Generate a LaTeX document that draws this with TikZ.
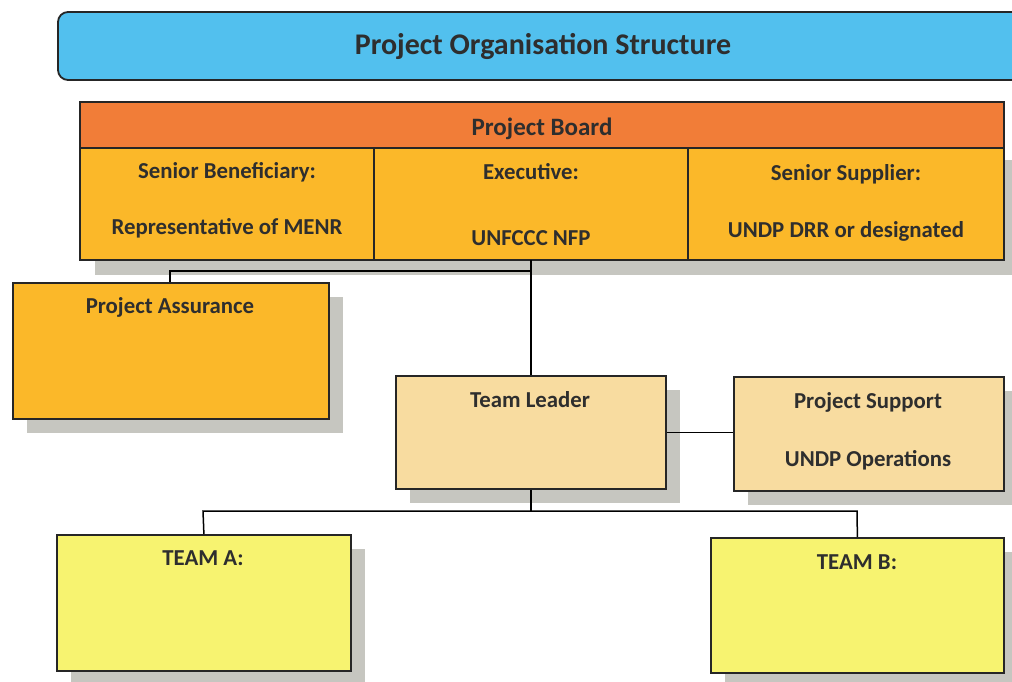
\documentclass[tikz,border=0pt]{standalone}
\usepackage{fontspec}
\setmainfont{Carlito}
\definecolor{titleblue}{HTML}{52C0EE}
\definecolor{boardorange}{HTML}{F17D38}
\definecolor{gold}{HTML}{FBB829}
\definecolor{tan}{HTML}{F8DCA0}
\definecolor{lemon}{HTML}{F7F370}
\definecolor{inkgrey}{HTML}{2E2E2E}
\definecolor{shadowgrey}{HTML}{C6C6C0}
\begin{document}
\begin{tikzpicture}[x=1pt,y=-1pt,
  box/.style={draw=black!85,line width=1.8pt},
  shade/.style={fill=shadowgrey},
  lbl/.style={font=\bfseries\fontsize{22.8}{26}\selectfont,text=inkgrey},
  conn/.style={draw=black,line width=1.5pt}]
\useasboundingbox (0,0) rectangle (1012,681);

% drop shadows
\fill[shade] (95,160) rectangle (1019,275);
\fill[shade] (27,297) rectangle (343,433);
\fill[shade] (410,390) rectangle (680,503);
\fill[shade] (748,391) rectangle (1018,505);
\fill[shade] (71,549) rectangle (365,685);
\fill[shade] (725,552) rectangle (1018,687);

% title banner
\draw[box,fill=titleblue,rounded corners=10pt] (58,12) rectangle (1040,80);
\node (title) at (543,46) {\bfseries\fontsize{30}{34}\selectfont\color{inkgrey}Project Organisation Structure};

% project board
\draw[box,fill=boardorange] (80,102) rectangle (1004,148);
\node[lbl,font=\bfseries\fontsize{25}{28}\selectfont] (board) at (542,129) {Project Board};
\draw[box,fill=gold] (80,148) rectangle (374,260);
\draw[box,fill=gold] (374,148) rectangle (688,260);
\draw[box,fill=gold] (688,148) rectangle (1004,260);
\coordinate (boardbot) at (531,260);
\node[lbl] (sb1) at (227,172) {Senior Beneficiary:};
\node[lbl] (sb2) at (227,228) {Representative of MENR};
\node[lbl] (ex1) at (531,172) {Executive:};
\node[lbl] (ex2) at (531,238) {UNFCCC NFP};
\node[lbl] (ss1) at (846,174) {Senior Supplier:};
\node[lbl] (ss2) at (846,231) {UNDP DRR or designated};

% boxes
\node[box,fill=gold,minimum width=316pt,minimum height=136pt,anchor=north west,inner sep=0pt] (pa) at (12,282) {};
\node[lbl] at (170,307) {Project Assurance};

\node[box,fill=tan,minimum width=270pt,minimum height=113pt,anchor=north west,inner sep=0pt] (tl) at (395,375) {};
\node[lbl] at (530,400) {Team Leader};

\node[box,fill=tan,minimum width=270pt,minimum height=114pt,anchor=north west,inner sep=0pt] (ps) at (733,376) {};
\node[lbl] at (868,402) {Project Support};
\node[lbl] at (868,460) {UNDP Operations};

\node[box,fill=lemon,minimum width=294pt,minimum height=136pt,anchor=north west,inner sep=0pt] (ta) at (56,534) {};
\node[lbl] at (203,558) {TEAM A:};

\node[box,fill=lemon,minimum width=293pt,minimum height=135pt,anchor=north west,inner sep=0pt] (tb) at (710,537) {};
\node[lbl] at (857,562) {TEAM B:};

% connectors
\draw[conn] (boardbot) -- (tl.north -| boardbot);
\draw[conn] (boardbot |- 0,271) -- (170,271) -- (pa.north -| 170,0);
\draw[conn] (tl.east) -- (ps.west |- tl.east);
\draw[conn] (tl.south) -- (tl.south |- 0,511) coordinate (split);
\draw[conn] (split) -- (203,511) -- (ta.north);
\draw[conn] (split) -- (857,511) -- (tb.north);
\end{tikzpicture}
\end{document}
